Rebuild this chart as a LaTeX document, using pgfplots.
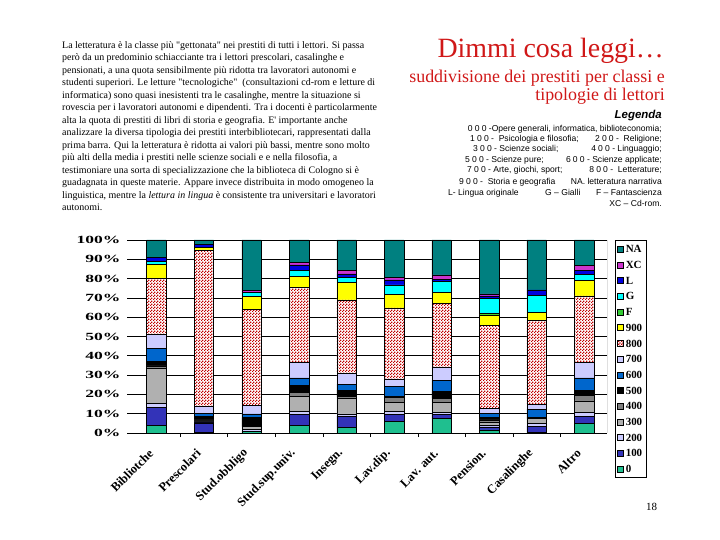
\documentclass[border=0pt]{standalone}
\usepackage{fontspec}
\setmainfont{Liberation Serif}[Ligatures=TeXOff]
\setsansfont{Liberation Sans}[Ligatures=TeXOff]
\usepackage{pgfplots}
\pgfplotsset{compat=1.18}
\usepackage{pgfplotstable}
\usetikzlibrary{patterns}

% scacchiera fine per la classe 800
\pgfdeclarepatternformonly{finechecker}{\pgfqpoint{0pt}{0pt}}{\pgfqpoint{3bp}{3bp}}{\pgfqpoint{3bp}{3bp}}{%
  \pgfpathrectangle{\pgfqpoint{0pt}{0pt}}{\pgfqpoint{1.5bp}{1.5bp}}%
  \pgfpathrectangle{\pgfqpoint{1.5bp}{1.5bp}}{\pgfqpoint{1.5bp}{1.5bp}}%
  \pgfusepath{fill}}

\definecolor{cZero}{HTML}{1FBF8F}
\definecolor{cCento}{HTML}{3333B8}
\definecolor{cLav}{HTML}{CCCCFF}
\definecolor{cGrigio}{HTML}{B0B0B0}
\definecolor{cGrigioSc}{HTML}{808080}
\definecolor{cBlu}{HTML}{0066CC}
\definecolor{cRosso}{HTML}{C00000}
\definecolor{cGiallo}{HTML}{FFFF00}
\definecolor{cVerde}{HTML}{33CC33}
\definecolor{cCiano}{HTML}{00FFFF}
\definecolor{cL}{HTML}{0000E0}
\definecolor{cXC}{HTML}{CC33CC}
\definecolor{cNA}{HTML}{008080}
\definecolor{titolo}{HTML}{D01818}

% percentuali per tipologia di lettore (x) e classe
\pgfplotstableread{
x c0  c100 c200 c300 c400 c500 c600 c700 c800 c900 F   G   L   XC  NA
0 4.1 9.2  2.0  18.5 1.0  2.4  6.6  7.3  29.0 7.3  0   1.4 2.2 0   9.0
1 0.3 5.0  0.5  0.5  0.5  2.0  1.4  3.5  81.2 1.2  0   0   1.7 0   2.2
2 1.0 0    0.9  1.4  0    4.7  1.9  4.3  50.0 6.7  0   1.9 0   1.2 26.0
3 3.8 5.9  1.4  7.8  2.1  3.5  4.0  8.1  39.0 5.7  0   2.9 2.9 1.4 11.5
4 2.8 5.9  1.2  8.1  0.9  3.3  3.1  5.5  38.2 9.2  0   2.6 1.7 1.7 15.8
5 5.9 3.8  1.4  4.8  2.6  0.3  5.2  4.1  36.7 6.9  0.3 4.7 2.6 1.4 19.3
6 7.6 2.2  0.7  5.4  2.1  3.5  5.9  6.7  33.2 5.7  0   5.5 1.2 2.2 18.1
7 1.6 1.6  0.7  1.9  1.0  1.4  2.1  2.6  42.8 5.5  0.9 7.8 1.2 1.0 27.9
8 0.5 3.1  1.2  2.6  0    0.7  4.3  2.4  43.7 4.0  0   9.0 2.6 0   25.9
9 4.8 4.0  1.9  6.0  2.9  2.4  6.6  7.8  34.7 7.8  0   3.3 2.2 2.6 13.0
}\dati

\newcommand{\yl}[1]{\scalebox{1.6}[1]{\fontsize{11}{11}\selectfont\bfseries #1}}
\newcommand{\dg}[1]{{\addfontfeatures{LetterSpace=25}#1}}

\begin{document}
\begin{tikzpicture}
\path[use as bounding box] (0,0) rectangle (720bp,540bp);

% testo di commento
\node[anchor=north west, inner sep=0, align=left, font=\fontsize{10}{12.55}\selectfont] at (62bp,499bp) {%
La letteratura è la classe più "gettonata" nei prestiti di tutti i lettori. Si passa\\
però da un predominio schiacciante tra i lettori prescolari, casalinghe e\\
pensionati, a una quota sensibilmente più ridotta tra lavoratori autonomi e\\
studenti superiori. Le letture "tecnologiche"\ \ (consultazioni cd-rom e letture di\\
informatica) sono quasi inesistenti tra le casalinghe, mentre la situazione si\\
rovescia per i lavoratori autonomi e dipendenti. Tra i docenti è particolarmente\\
alta la quota di prestiti di libri di storia e geografia. E' importante anche\\
analizzare la diversa tipologia dei prestiti interbibliotecari, rappresentati dalla\\
prima barra. Qui la letteratura è ridotta ai valori più bassi, mentre sono molto\\
più alti della media i prestiti nelle scienze sociali e e nella filosofia, a\\
testimoniare una sorta di specializzazione che la biblioteca di Cologno si è\\
guadagnata in queste materie. Appare invece distribuita in modo omogeneo la\\
linguistica, mentre la \textit{lettura in lingua} è consistente tra universitari e lavoratori\\
autonomi.};

% titolo
\node[anchor=base east, inner sep=0, text=titolo, font=\fontsize{28}{30}\selectfont] at (664bp,482bp) {Dimmi cosa leggi…};
\node[anchor=base east, inner sep=0, text=titolo, font=\fontsize{18}{18}\selectfont] at (665bp,457bp) {suddivisione dei prestiti per classi e};
\node[anchor=base east, inner sep=0, text=titolo, font=\fontsize{18}{18}\selectfont] at (665bp,439bp) {tipologie di lettori};

% legenda testuale
\node[anchor=base east, inner sep=0, font=\sffamily\bfseries\itshape\fontsize{11.5}{12}\selectfont] at (662bp,421bp) {Legenda};
\begin{scope}[every node/.style={inner sep=0, font=\sffamily\fontsize{8.6}{9}\selectfont}]
\node[anchor=base east] at (662bp,408.7bp) {\dg{000} -Opere generali, informatica, biblioteconomia;};
\node[anchor=base west] at (470bp,398.7bp) {\dg{100} -\ \ Psicologia e filosofia;};
\node[anchor=base east] at (662bp,398.7bp) {\dg{200} -\ \ Religione;};
\node[anchor=base west] at (473bp,388.3bp) {\dg{300} - Scienze sociali;};
\node[anchor=base east] at (662bp,388.3bp) {\dg{400} - Linguaggio;};
\node[anchor=base west] at (465bp,377.7bp) {\dg{500} - Scienze pure;};
\node[anchor=base east] at (662bp,377.7bp) {\dg{600} - Scienze applicate;};
\node[anchor=base west] at (467bp,367bp) {\dg{700} - Arte, giochi, sport;};
\node[anchor=base east] at (662bp,367bp) {\dg{800} -\ \ Letterature;};
\node[anchor=base west] at (459bp,355.7bp) {\dg{900} -\ \ Storia e geografia};
\node[anchor=base east] at (662bp,355.7bp) {NA. letteratura narrativa};
\node[anchor=base west] at (448bp,344.7bp) {L- Lingua originale};
\node[anchor=base west] at (545bp,344.7bp) {G – Gialli};
\node[anchor=base east] at (662bp,344.7bp) {F – Fantascienza};
\node[anchor=base east] at (662bp,333.7bp) {XC – Cd-rom.};
\end{scope}

\begin{axis}[
  at={(127bp,107bp)}, anchor=south west,
  scale only axis, width=480bp, height=193bp,
  ybar stacked, bar width=19.5bp,
  xmin=-0.62, xmax=9.48, ymin=0, ymax=100,
  axis x line*=bottom, axis y line*=left,
  x axis line style={-, line width=0.7bp},
  y axis line style={draw=none},
  ytick={0,10,...,100},
  yticklabels={\yl{0\%},\yl{10\%},\yl{20\%},\yl{30\%},\yl{40\%},\yl{50\%},\yl{60\%},\yl{70\%},\yl{80\%},\yl{90\%},\yl{100\%}},
  yticklabel style={anchor=east, xshift=-3bp},
  ymajorgrids, major grid style={black, line width=0.7bp},
  major tick length=0pt, minor tick length=4bp, tick align=outside,
  minor tick style={black, line width=0.6bp},
  xtick={0,...,9},
  minor xtick={0.5,1.5,...,8.5},
  xticklabels={Bibliotche,Prescolari,Stud.obbligo,Stud.sup.univ.,Insegn.,Lav.dip.,Lav. aut.,Pension.,Casalinghe,Altro},
  xticklabel style={xshift=-3bp, yshift=-16bp, rotate=45, anchor=east, font=\fontsize{12.5}{13}\selectfont\bfseries},
  legend image code/.code={\draw[#1, line width=0.4bp] (0bp,-3bp) rectangle (6bp,3bp);},
  reverse legend,
  legend cell align=left,
  legend style={at={(axis description cs:1.0167,1)}, anchor=north west, draw=black, line width=0.7bp,
    font=\fontsize{11}{11}\selectfont\bfseries, inner xsep=2bp, inner ysep=3bp, row sep=4.2bp,
    nodes={inner sep=2bp, text height=7.5bp, text depth=0bp}},
  every axis plot/.append style={draw=black, line width=0.5bp},
]
\addplot[fill=cZero] table[x=x, y=c0] {\dati};
\addplot[fill=cCento] table[x=x, y=c100] {\dati};
\addplot[fill=cLav] table[x=x, y=c200] {\dati};
\addplot[fill=cGrigio] table[x=x, y=c300] {\dati};
\addplot[fill=cGrigioSc] table[x=x, y=c400] {\dati};
\addplot[fill=black] table[x=x, y=c500] {\dati};
\addplot[fill=cBlu] table[x=x, y=c600] {\dati};
\addplot[fill=cLav] table[x=x, y=c700] {\dati};
\addplot[fill=white, postaction={pattern=finechecker, pattern color=cRosso}] table[x=x, y=c800] {\dati};
\addplot[fill=cGiallo] table[x=x, y=c900] {\dati};
\addplot[fill=cVerde] table[x=x, y=F] {\dati};
\addplot[fill=cCiano] table[x=x, y=G] {\dati};
\addplot[fill=cL] table[x=x, y=L] {\dati};
\addplot[fill=cXC] table[x=x, y=XC] {\dati};
\addplot[fill=cNA] table[x=x, y=NA] {\dati};
\legend{0,100,200,300,400,500,600,700,800,900,F,G,L,XC,NA}
\draw[black, line width=0.7bp] (rel axis cs:1,0) -- (rel axis cs:1,1);
\end{axis}

% numero di pagina
\node[anchor=base, inner sep=0, font=\fontsize{11}{12}\selectfont] at (651.5bp,30bp) {18};
\end{tikzpicture}
\end{document}
